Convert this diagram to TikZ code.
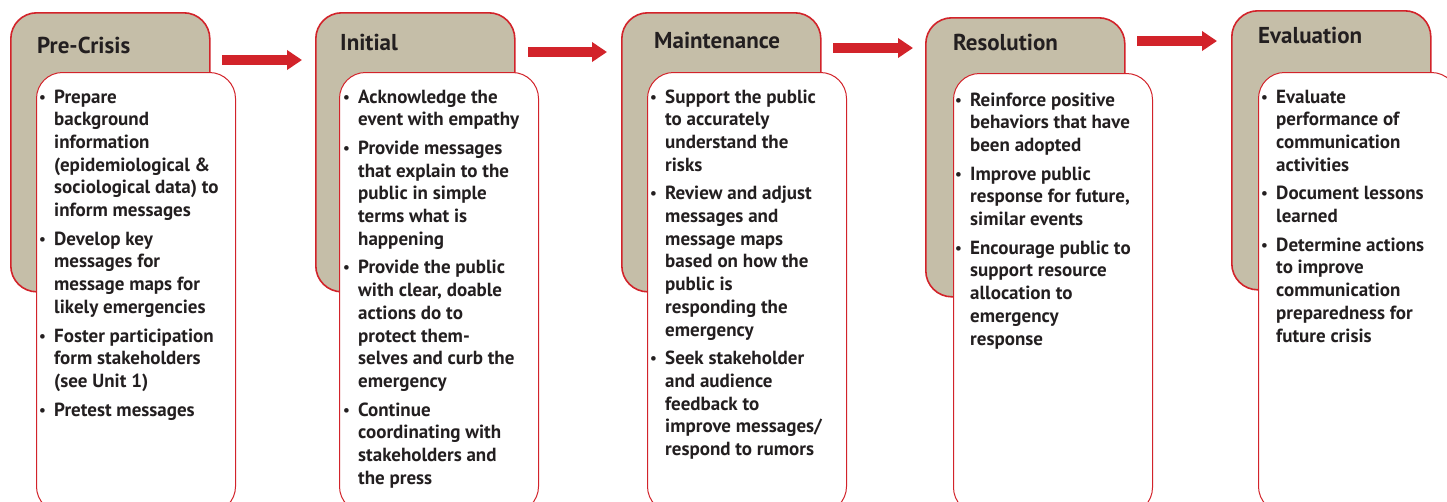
\documentclass[tikz,border=0pt]{standalone}
\usepackage{fontspec}
\setmainfont{PT Sans}
\usetikzlibrary{arrows.meta}

\definecolor{crisisred}{RGB}{210,35,42}
\definecolor{phasetan}{RGB}{197,190,168}
\definecolor{inktext}{RGB}{35,31,32}

\newcommand{\pt}{\makebox[15pt][l]{\raisebox{1pt}{\fontsize{15}{18}\selectfont\textbullet}}}

\tikzset{
	phase/.style={draw=crisisred, line width=1.6pt, fill=phasetan, rounded corners=26pt,
		rectangle, anchor=north west, inner sep=0pt, minimum width=199pt, minimum height=279pt},
	card/.style={draw=crisisred, line width=1pt, fill=white, rounded corners=26pt,
		rectangle, anchor=north west, inner sep=0pt, minimum width=199pt, minimum height=440pt},
	phasetitle/.style={anchor=base west, inner sep=0pt, text=inktext,
		font=\fontsize{23}{27}\selectfont\bfseries},
	points/.style={anchor=base west, inner sep=0pt, text=inktext,
		font=\fontsize{19}{22.7}\selectfont\bfseries},
	flow/.style={draw=crisisred, line width=10pt, -{Triangle[length=15pt,width=19pt]}}
}

\begin{document}
\begin{tikzpicture}[x=1pt, y=-1pt]
				%%%%% START %%%%%
				\useasboundingbox[fill=white] (0,0) rectangle (1447,501);
				\clip (0,0) rectangle (1447,501);

				%% tan tabs
				\node[phase] (t1) at (10,12) {};
				\node[phase] (t2) at (315,12) {};
				\node[phase] (t3) at (621,12) {};
				\node[phase] (t4) at (925,17) {};
				\node[phase] (t5) at (1231,10) {};

				\node[phasetitle] (h1) at (37,53) {Pre-Crisis};
				\node[phasetitle] (h2) at (340,50) {Initial};
				\node[phasetitle] (h3) at (654,48) {Maintenance};
				\node[phasetitle] (h4) at (953,50) {Resolution};
				\node[phasetitle] (h5) at (1258,43) {Evaluation};

				%% white cards
				\node[card] (c1) at (36,72) {};
				\node[card] (c2) at (339,72) {};
				\node[card] (c3) at (647,72) {};
				\node[card] (c4) at (953,73) {};
				\node[card] (c5) at (1258,72) {};

				%% arrows between the phases
				\coordinate (a1) at (222,60);  \coordinate (b1) at (302,60);
				\coordinate (a2) at (528,52);  \coordinate (b2) at (607,52);
				\coordinate (a3) at (833,48);  \coordinate (b3) at (913,48);
				\coordinate (a4) at (1137,41); \coordinate (b4) at (1217,41);
				\draw[flow] (a1) -- (b1);
				\draw[flow] (a2) -- (b2);
				\draw[flow] (a3) -- (b3);
				\draw[flow] (a4) -- (b4);

				%% bullet lists
				\node[points] (p1) at (39,103) {\begin{tabular}[t]{@{}l@{}l@{}}
					\pt & Prepare\\
					& background\\
					& information\\
					& (epidemiological \&\\
					& sociological data) to\\
					& inform messages\\[6pt]
					\pt & Develop key\\
					& messages for\\
					& message maps for\\
					& likely emergencies\\[6pt]
					\pt & Foster participation\\
					& form stakeholders\\
					& (see Unit 1)\\[6pt]
					\pt & Pretest messages
				\end{tabular}};

				\node[points] (p2) at (343,103) {\begin{tabular}[t]{@{}l@{}l@{}}
					\pt & Acknowledge the\\
					& event with empathy\\[6pt]
					\pt & Provide messages\\
					& that explain to the\\
					& public in simple\\
					& terms what is\\
					& happening\\[6pt]
					\pt & Provide the public\\
					& with clear, doable\\
					& actions do to\\
					& protect them-\\
					& selves and curb the\\
					& emergency\\[6pt]
					\pt & Continue\\
					& coordinating with\\
					& stakeholders and\\
					& the press
				\end{tabular}};

				\node[points] (p3) at (650,103) {\begin{tabular}[t]{@{}l@{}l@{}}
					\pt & Support the public\\
					& to accurately\\
					& understand the\\
					& risks\\[6pt]
					\pt & Review and adjust\\
					& messages and\\
					& message maps\\
					& based on how the\\
					& public is\\
					& responding the\\
					& emergency\\[6pt]
					\pt & Seek stakeholder\\
					& and audience\\
					& feedback to\\
					& improve messages/\\
					& respond to rumors
				\end{tabular}};

				\node[points] (p4) at (955,106) {\begin{tabular}[t]{@{}l@{}l@{}}
					\pt & Reinforce positive\\
					& behaviors that have\\
					& been adopted\\[6pt]
					\pt & Improve public\\
					& response for future,\\
					& similar events\\[6pt]
					\pt & Encourage public to\\
					& support resource\\
					& allocation to\\
					& emergency\\
					& response
				\end{tabular}};

				\node[points] (p5) at (1261,103) {\begin{tabular}[t]{@{}l@{}l@{}}
					\pt & Evaluate\\
					& performance of\\
					& communication\\
					& activities\\[6pt]
					\pt & Document lessons\\
					& learned\\[6pt]
					\pt & Determine actions\\
					& to improve\\
					& communication\\
					& preparedness for\\
					& future crisis
				\end{tabular}};
				%%%%% END %%%%%
\end{tikzpicture}
\end{document}
